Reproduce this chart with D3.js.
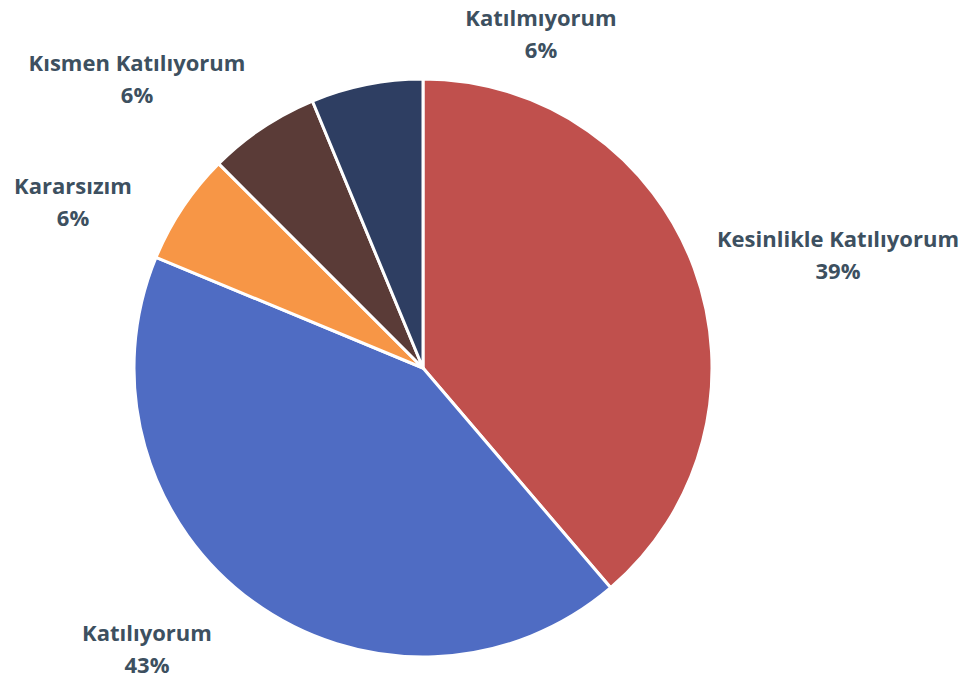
<!DOCTYPE html>
<html>
<head>
<meta charset="utf-8">
<script src="https://cdn.jsdelivr.net/npm/d3@7"></script>
<style>
  body { margin: 0; background: #fff; }
  text { font-family: "Open Sans", sans-serif; font-weight: bold; }
</style>
</head>
<body>
<div id="chart"></div>
<script>
// slices in clockwise order from 12 o'clock
const categories = ["Kesinlikle Katılıyorum", "Katılıyorum", "Kararsızım", "Kısmen Katılıyorum", "Katılmıyorum"];
const counts = [31, 34, 5, 5, 5];
const pctLabels = ["39%", "43%", "6%", "6%", "6%"];
const colors = ["#C0504D", "#4F6CC3", "#F79646", "#5A3B37", "#2E3E62"];

const width = 966, height = 685;
const cx = 423, cy = 368, radius = 289;

// label anchor points (center of the two-line label)
const labelPos = [[838, 254], [147, 648], [73, 201], [137, 78], [541, 33]];

const svg = d3.select("#chart")
    .append("svg")
    .attr("width", width)
    .attr("height", height);

const pie = d3.pie().sort(null).value(d => d);
const arc = d3.arc().innerRadius(0).outerRadius(radius);

const g = svg.append("g")
    .attr("transform", `translate(${cx},${cy})`);

g.selectAll("path")
    .data(pie(counts))
    .enter().append("path")
    .attr("d", arc)
    .attr("fill", (d, i) => colors[i])
    .attr("stroke", "#fff")
    .attr("stroke-width", 3)
    .attr("stroke-linejoin", "round");

// labels
const lbl = svg.append("g")
    .selectAll("text")
    .data(categories)
    .enter().append("text")
    .attr("text-anchor", "middle")
    .attr("font-size", "22px")
    .attr("fill", "#3D5060")
    .attr("x", (d, i) => labelPos[i][0])
    .attr("y", (d, i) => labelPos[i][1]);

lbl.append("tspan")
    .attr("x", (d, i) => labelPos[i][0])
    .attr("dy", "-0.3em")
    .text(d => d);

lbl.append("tspan")
    .attr("x", (d, i) => labelPos[i][0])
    .attr("dy", "1.45em")
    .text((d, i) => pctLabels[i]);
</script>
</body>
</html>
